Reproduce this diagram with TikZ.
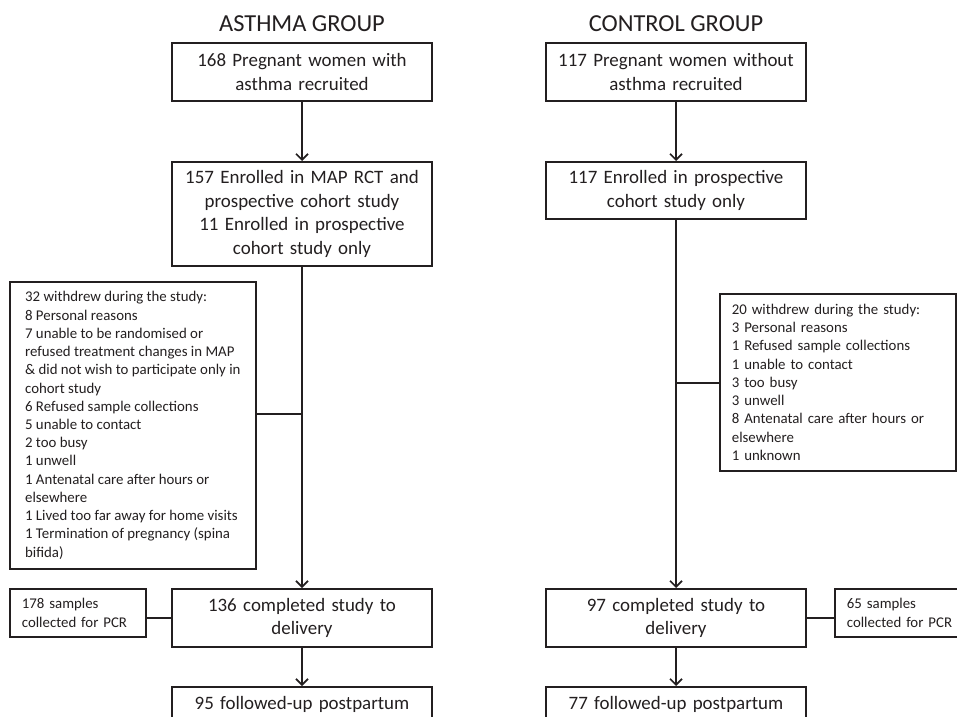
\documentclass[tikz,border=0pt]{standalone}
\usepackage{fontspec}
\setmainfont{Carlito}
\usetikzlibrary{arrows.meta}
\definecolor{ink}{HTML}{231F20}

\tikzset{
  box/.style={draw=ink, line width=1.7bp, text=ink, align=center, text width=248bp,
    inner xsep=6bp, anchor=north, font=\fontsize{19}{23.5}\selectfont},
  note/.style={draw=ink, line width=1.7bp, text=ink, align=left, inner xsep=12bp,
    anchor=north west, font=\fontsize{14.9}{18.3}\selectfont},
  title/.style={text=ink, anchor=base, font=\fontsize{24.5}{29}\selectfont},
  link/.style={draw=ink, line width=1.7bp},
  arr/.style={link, -{Straight Barb[length=6bp,width=12bp,line width=1.7bp]}}
}

\begin{document}
\begin{tikzpicture}[x=1bp,y=-1bp]
\fill[white] (0,0) rectangle (957,717);
\useasboundingbox (0,0) rectangle (957,717);
\clip (0,0) rectangle (957,717);

\pgfmathsetmacro{\xa}{302}
\pgfmathsetmacro{\xc}{676}

\begin{scope}
\node[title] (ta) at (\xa,32) {ASTHMA GROUP};
\node[box, minimum height=58bp] (a1) at (\xa,42) {168 Pregnant women with\\asthma recruited};
\node[box, minimum height=104bp] (a2) at (\xa,161) {157 Enrolled in MAP RCT and\\prospective cohort study\\11 Enrolled in prospective\\cohort study only};
\node[note, minimum width=246bp, minimum height=287bp] (aw) at (9,281)
  {32 withdrew during the study:\\8 Personal reasons\\7 unable to be randomised or\\refused treatment changes in MAP\\\& did not wish to participate only in\\cohort study\\6 Refused sample collections\\5 unable to contact\\2 too busy\\1 unwell\\1 Antenatal care after hours or\\elsewhere\\1 Lived too far away for home visits\\1 Termination of pregnancy (spina\\bifida)};
\node[box, minimum height=58bp] (a3) at (\xa,588) {136 completed study to\\delivery};
\node[note, text width=112bp, minimum height=48bp] (as) at (9,588) {178 samples\\collected for PCR};
\node[box, inner ysep=10bp] (a4) at (\xa,686) {95 followed-up postpartum};
\coordinate (ja) at (\xa,414);

\draw[arr] (a1) -- (a2);
\draw[arr] (a2) -- (a3);
\draw[link] (aw.east |- ja) -- (ja);
\draw[link] (a3.west) -- (a3.west -| as.east);
\draw[arr] (a3) -- (a4);
\end{scope}

\begin{scope}
\node[title] (tc) at (\xc,32) {CONTROL GROUP};
\node[box, minimum height=58bp] (c1) at (\xc,42) {117 Pregnant women without\\asthma recruited};
\node[box, minimum height=57bp] (c2) at (\xc,161) {117 Enrolled in prospective\\cohort study only};
\node[note, text width=212bp, minimum height=177bp] (cw) at (719,293)
  {20 withdrew during the study:\\3 Personal reasons\\1 Refused sample collections\\1 unable to contact\\3 too busy\\3 unwell\\8 Antenatal care after hours or\\elsewhere\\1 unknown};
\node[note, text width=120bp, minimum height=48bp] (cs) at (834,588) {65 samples\\collected for PCR};
\node[box, minimum height=58bp] (c3) at (\xc,588) {97 completed study to\\delivery};
\node[box, inner ysep=10bp] (c4) at (\xc,686) {77 followed-up postpartum};
\coordinate (jc) at (\xc,383);

\draw[arr] (c1) -- (c2);
\draw[arr] (c2) -- (c3);
\draw[link] (cw.west |- jc) -- (jc);
\draw[link] (c3.east) -- (c3.east -| cs.west);
\draw[arr] (c3) -- (c4);
\end{scope}

\end{tikzpicture}
\end{document}
